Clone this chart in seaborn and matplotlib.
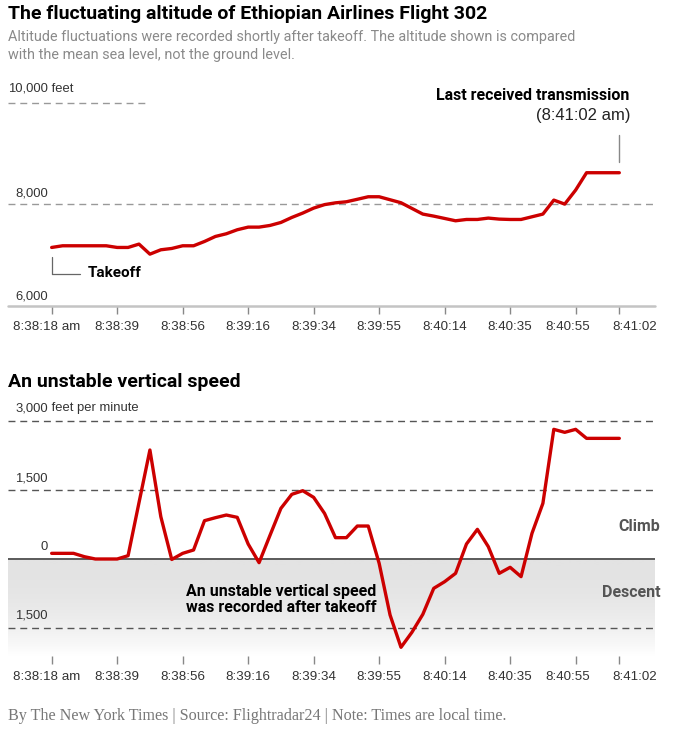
import matplotlib
matplotlib.use("Agg")
import numpy as np
import pandas as pd
import matplotlib.pyplot as plt
import matplotlib.transforms as mtransforms
import seaborn as sns
from matplotlib.colors import LinearSegmentedColormap

# ---- data ----
tick_pos = [0, 6, 12, 18, 24, 30, 36, 42, 48, 52]
tick_labels = ["8:38:18 am", "8:38:39", "8:38:56", "8:39:16", "8:39:34",
               "8:39:55", "8:40:14", "8:40:35", "8:40:55", "8:41:02"]

# altitude in feet, one value per recorded point
altitude = [7145, 7178, 7178, 7178, 7178, 7178, 7145, 7145, 7211, 7013,
            7099, 7125, 7178, 7178, 7263, 7362, 7415, 7494, 7546, 7546,
            7579, 7638, 7737, 7823, 7921, 7990, 8025, 8046, 8095, 8145,
            8145, 8086, 8027, 7915, 7803, 7763, 7717, 7671, 7697, 7697,
            7724, 7704, 7697, 7697, 7750, 7803, 8079, 8000, 8277, 8619,
            8619, 8619, 8619]

# vertical speed in feet per minute
vspeed = [123, 123, 123, 50, 0, 0, 0, 72, 1225, 2370,
          920, -10, 123, 196, 833, 898, 956, 906, 326, -80,
          514, 1101, 1406, 1485, 1340, 990, 464, 464, 717, 717,
          -94, -1217, -1920, -1594, -1203, -638, -493, -312, 326, 645,
          268, -312, -181, -384, 558, 1210, 2819, 2754, 2819, 2623,
          2623, 2623, 2623]

df = pd.DataFrame({"point": range(len(altitude)), "altitude": altitude, "vspeed": vspeed})

RED = "#cc0000"
HEAD = ["Roboto", "DejaVu Sans"]
BODY = ["Liberation Sans", "DejaVu Sans"]

sns.set_style("white")
plt.rcParams["font.family"] = BODY

W, H = 674, 739
fig = plt.figure(figsize=(W / 100, H / 100), dpi=100)

def fx(px):
    return px / W

def fy(py):
    return 1 - py / H

XMIN, XMAX = -4.0, 55.27
# small sideways nudges (pixels) so the crowded last labels do not overlap
label_shift = {0: -5, 8: -8, 9: 15}


def style_xaxis(ax):
    ax.set_xticks(tick_pos, tick_labels)
    ax.set_yticks([])
    ax.tick_params(axis="x", bottom=True, length=6, width=1, color="#888888",
                   pad=5, labelsize=9.6, labelcolor="#333333")
    ax.set_xlabel("")
    ax.set_ylabel("")
    for i, lab in enumerate(ax.get_xticklabels()):
        if i in label_shift:
            off = mtransforms.ScaledTranslation(label_shift[i] / 100, 0, fig.dpi_scale_trans)
            lab.set_transform(lab.get_transform() + off)


def ylab(ax, val, num, unit="", dy=12):
    kw = dict(xycoords=("axes fraction", "data"), textcoords="offset pixels",
              va="center", fontsize=9.4, color="#333333")
    ax.annotate(num, xy=(0, val), xytext=(40, dy), ha="right", **kw)
    if unit:
        ax.annotate(" " + unit, xy=(0, val), xytext=(40, dy), ha="left", **kw)


# ---------------- top chart: altitude ----------------
ax1 = fig.add_axes([fx(8), fy(305.5), fx(655) - fx(8), fy(80) - fy(305.5)])
sns.lineplot(data=df, x="point", y="altitude", ax=ax1, color=RED, linewidth=2.4, zorder=3)
ax1.set_xlim(XMIN, XMAX)
ax1.set_ylim(6000, 10448)
for s in ax1.spines.values():
    s.set_visible(False)
ax1.axhline(6000, color="#c4c4c4", lw=1.8, clip_on=False, zorder=2)
ax1.axhline(8000, color="#999999", lw=1, ls=(0, (5, 3.5)), zorder=1)
ax1.axhline(10000, xmin=0, xmax=0.212, color="#999999", lw=1, ls=(0, (5, 3.5)), zorder=1)
style_xaxis(ax1)

ylab(ax1, 10000, "10,000", "feet", dy=14)
ylab(ax1, 8000, "8,000", dy=11)
ylab(ax1, 6000, "6,000", dy=9)

# takeoff leader
ax1.plot([0, 0], [6957, 6621], color="#666666", lw=0.9, zorder=2)
ax1.plot([0, 2.6], [6621, 6621], color="#666666", lw=0.9, zorder=2)
ax1.text(3.3, 6640, "Takeoff", family=HEAD, fontweight="bold", fontsize=11,
         ha="left", va="center", color="black")

# last transmission
ax1.plot([52, 52], [9363, 8830], color="#888888", lw=1, zorder=2)
ax1.text(44.1, 10152, "Last received transmission", family=HEAD, fontweight="bold",
         fontsize=11.5, ha="center", va="center", color="black", clip_on=False)
ax1.text(52.98, 9757, "(8:41:02 am)", fontsize=12, ha="right", va="center",
         color="#222222", clip_on=False)

# ---------------- bottom chart: vertical speed ----------------
ax2 = fig.add_axes([fx(8), fy(656), fx(655) - fx(8), fy(400) - fy(656)])
YLO, YHI = -2109, 3457
t = np.linspace(0, 1, 200)
grad = (1 - t ** 2.2).reshape(-1, 1)
cmap = LinearSegmentedColormap.from_list("fade", ["#ffffff", "#e3e3e3"])
ax2.imshow(grad, extent=[XMIN, XMAX, YLO, 0], aspect="auto", cmap=cmap,
           vmin=0, vmax=1, zorder=0)
sns.lineplot(data=df, x="point", y="vspeed", ax=ax2, color=RED, linewidth=2.4, zorder=3)
ax2.set_xlim(XMIN, XMAX)
ax2.set_ylim(YLO, YHI)
for s in ax2.spines.values():
    s.set_visible(False)
for v in [3000, 1500, -1500]:
    ax2.axhline(v, color="#555555", lw=1, ls=(0, (5, 3.5)), zorder=1)
ax2.axhline(0, color="#444444", lw=1.2, zorder=2)
style_xaxis(ax2)

ylab(ax2, 3000, "3,000", "feet per minute", dy=13)
ylab(ax2, 1500, "1,500")
ylab(ax2, 0, "0")
ylab(ax2, -1500, "1,500")

ax2.text(55.7, 696, "Climb", family=HEAD, fontweight="bold", fontsize=11.5,
         ha="right", va="center", color="#555555", clip_on=False)
ax2.text(55.8, -739, "Descent", family=HEAD, fontweight="bold", fontsize=11.5,
         ha="right", va="center", color="#555555", clip_on=False)
ax2.text(12.3, -880, "An unstable vertical speed\nwas recorded after takeoff",
         family=HEAD, fontweight="bold", fontsize=11.5, ha="left", va="center",
         color="black", linespacing=1.05)

# ---------------- titles and footer ----------------
fig.text(fx(8), fy(14), "The fluctuating altitude of Ethiopian Airlines Flight 302",
         family=HEAD, fontweight="bold", fontsize=14, va="center", color="black")
fig.text(fx(8), fy(37), "Altitude fluctuations were recorded shortly after takeoff. "
         "The altitude shown is compared", family=HEAD, fontsize=10.4, va="center",
         color="#8a8a8a")
fig.text(fx(8), fy(55), "with the mean sea level, not the ground level.",
         family=HEAD, fontsize=10.4, va="center", color="#8a8a8a")
fig.text(fx(8), fy(382), "An unstable vertical speed", family=HEAD, fontweight="bold",
         fontsize=14, va="center", color="black")
fig.text(fx(8), fy(716), "By The New York Times | Source: Flightradar24 | "
         "Note: Times are local time.", family=["Liberation Serif", "DejaVu Serif"],
         fontsize=11.6, va="center", color="#777777")

fig.savefig("out.png", dpi=100)
